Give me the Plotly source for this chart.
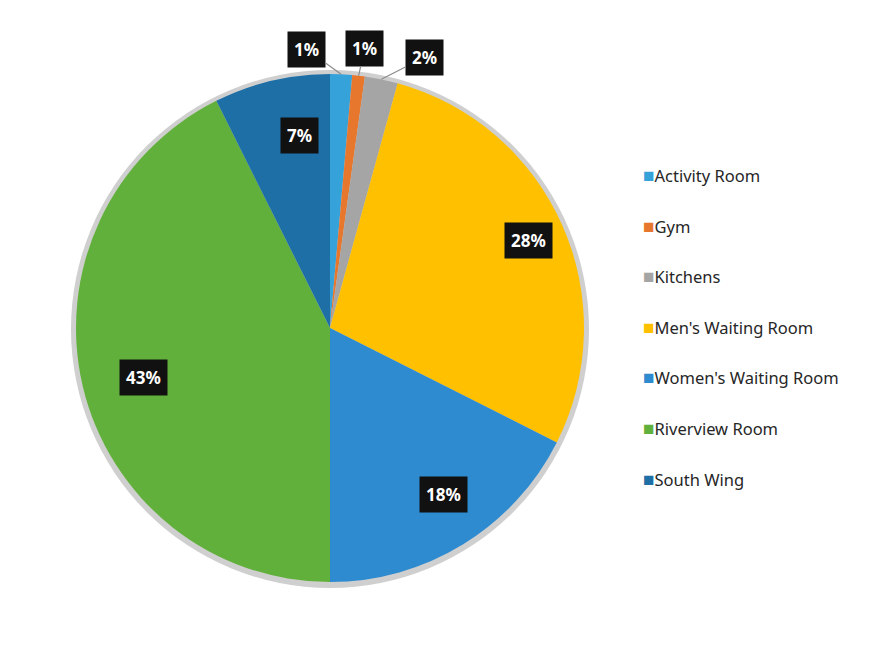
import math
import plotly.graph_objects as go

# ---- data ----
labels = ["Activity Room", "Gym", "Kitchens", "Men's Waiting Room",
          "Women's Waiting Room", "Riverview Room", "South Wing"]
values = [1.4, 0.8, 2.1, 28.2, 17.6, 42.7, 7.4]
colors = ["#35a2da", "#e8772e", "#a5a5a5", "#ffc000",
          "#2e8bd0", "#62b03c", "#1e6fa6"]

# ---- layout constants (pixels, page has an 8px body margin) ----
W, H = 875, 652
OFF = 8
CX, CY, R = 330 - OFF, 328 - OFF, 254

def px(x):
    return x / W

def py(y):
    return 1 - y / H

fig = go.Figure()
fig.add_trace(go.Pie(
    labels=labels, values=values, sort=False, direction="clockwise",
    rotation=0, marker=dict(colors=colors, line=dict(width=0)),
    textinfo="none", hoverinfo="label+percent", showlegend=False,
    domain=dict(x=[px(CX - R), px(CX + R)], y=[py(CY + R), py(CY - R)]),
))

# gray shadow ring behind pie
shapes = [dict(type="circle", xref="paper", yref="paper", layer="below",
               x0=px(CX - R - 5), x1=px(CX + R + 5),
               y0=py(CY + R + 6), y1=py(CY - R - 4),
               fillcolor="#cfcfcf", line=dict(width=0))]

total = sum(values)
annotations = []
cum = 0.0
small_offsets = {0: (-35, -25), 1: (6, -27), 2: (43, -22)}
label_font = dict(family="Noto Sans", size=17, color="white")
for i, v in enumerate(values):
    mid = (cum + v / 2) / total * 2 * math.pi
    cum += v
    pct = f"{round(v / total * 100)}%"
    if i in small_offsets:
        ex = CX + R * math.sin(mid)
        ey = CY - R * math.cos(mid)
        ax, ay = small_offsets[i]
        annotations.append(dict(
            x=px(ex), y=py(ey), xref="paper", yref="paper",
            text=f"<b>{pct}</b>", showarrow=True, arrowhead=0,
            arrowcolor="#8c8c8c", arrowwidth=1.2, ax=ax, ay=ay,
            font=label_font, bgcolor="#111111", borderpad=6,
        ))
    else:
        k = 0.855
        lx = CX + k * R * math.sin(mid)
        ly = CY - k * R * math.cos(mid)
        annotations.append(dict(
            x=px(lx), y=py(ly), xref="paper", yref="paper",
            text=f"<b>{pct}</b>", showarrow=False,
            font=label_font, bgcolor="#111111", borderpad=6,
        ))

# legend drawn as text entries
LEG_X, LEG_Y0, LEG_DY = 641 - OFF, 175 - OFF, 50.6
for i, (lab, col) in enumerate(zip(labels, colors)):
    annotations.append(dict(
        x=px(LEG_X), y=py(LEG_Y0 + i * LEG_DY), xref="paper", yref="paper",
        xanchor="left", yanchor="middle", showarrow=False,
        text=f"<span style='color:{col};font-size:19px'>■</span>{lab}",
        font=dict(family="Noto Sans", size=16.5, color="#262626"),
    ))

fig.update_layout(
    width=W, height=H, margin=dict(l=0, r=0, t=0, b=0),
    paper_bgcolor="white", plot_bgcolor="white",
    shapes=shapes, annotations=annotations,
)

fig.write_html("out.html")
